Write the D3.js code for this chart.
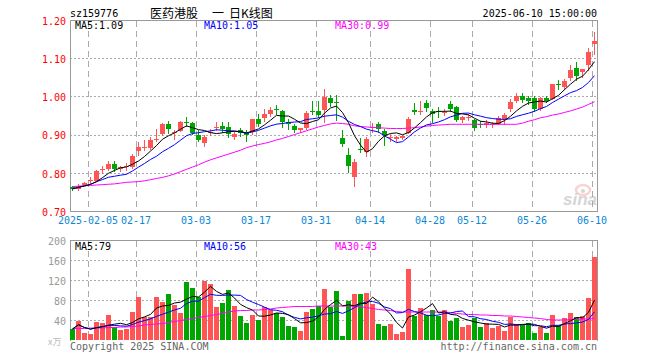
<!DOCTYPE html>
<html lang="zh">
<head>
<meta charset="UTF-8">
<title>医药港股 日K线图</title>
<script src="https://cdn.jsdelivr.net/npm/d3@7"></script>
<style>
  body { margin: 0; background: #fff; }
  text { font-family: 'DejaVu Sans Mono', monospace; font-size: 10px; }
</style>
</head>
<body>
<script>
// trading days shown on the chart
const dates = [
  '2025-01-23','2025-01-24','2025-01-27',
  '2025-02-05','2025-02-06','2025-02-07','2025-02-10','2025-02-11','2025-02-12','2025-02-13','2025-02-14',
  '2025-02-17','2025-02-18','2025-02-19','2025-02-20','2025-02-21','2025-02-24','2025-02-25','2025-02-26','2025-02-27','2025-02-28',
  '2025-03-03','2025-03-04','2025-03-05','2025-03-06','2025-03-07','2025-03-10','2025-03-11','2025-03-12','2025-03-13','2025-03-14',
  '2025-03-17','2025-03-18','2025-03-19','2025-03-20','2025-03-21','2025-03-24','2025-03-25','2025-03-26','2025-03-27','2025-03-28',
  '2025-03-31','2025-04-01','2025-04-02','2025-04-03','2025-04-07','2025-04-08','2025-04-09','2025-04-10','2025-04-11',
  '2025-04-14','2025-04-15','2025-04-16','2025-04-17','2025-04-18','2025-04-21','2025-04-22','2025-04-23','2025-04-24','2025-04-25',
  '2025-04-28','2025-04-29','2025-04-30','2025-05-06','2025-05-07','2025-05-08','2025-05-09',
  '2025-05-12','2025-05-13','2025-05-14','2025-05-15','2025-05-16','2025-05-19','2025-05-20','2025-05-21','2025-05-22','2025-05-23',
  '2025-05-26','2025-05-27','2025-05-28','2025-05-29','2025-05-30','2025-06-03','2025-06-04','2025-06-05','2025-06-06','2025-06-09','2025-06-10'
]

const open = [0.763,0.758,0.769,0.780,0.780,0.808,0.810,0.824,0.810,0.815,0.815,0.856,0.866,0.865,0.886,0.901,0.927,0.904,0.911,0.934,0.930,
  0.900,0.880,0.905,0.919,0.923,0.920,0.894,0.913,0.908,0.907,0.941,0.943,0.954,0.966,0.962,0.932,0.923,0.910,0.916,0.961,0.962,
  0.965,0.997,0.985,0.890,0.846,0.791,0.863,0.855,0.918,0.928,0.910,0.891,0.889,0.891,0.906,0.964,0.961,0.983,0.961,0.961,0.957,
  0.979,0.972,0.939,0.945,0.937,0.929,0.925,0.927,0.929,0.941,0.966,0.988,1.000,0.996,0.996,0.967,0.996,0.995,1.032,1.024,1.046,1.074,1.065,1.083,1.138]
const high = [0.766,0.770,0.775,0.789,0.808,0.817,0.832,0.830,0.818,0.825,0.850,0.880,0.887,0.894,0.914,0.930,0.935,0.913,0.935,0.946,0.934,
  0.913,0.900,0.914,0.934,0.934,0.933,0.908,0.917,0.913,0.942,0.954,0.967,0.971,0.977,0.965,0.941,0.928,0.918,0.962,0.989,0.989,
  1.019,1.003,1.003,0.912,0.865,0.836,0.890,0.893,0.930,0.934,0.914,0.901,0.897,0.899,0.945,0.984,0.989,0.990,0.967,0.973,0.967,
  0.987,0.974,0.950,0.953,0.941,0.936,0.937,0.933,0.950,0.956,0.993,1.008,1.008,1.002,1.002,0.998,1.002,1.033,1.042,1.046,1.081,1.089,1.072,1.127,1.168]
const low = [0.755,0.755,0.767,0.773,0.778,0.800,0.808,0.804,0.804,0.808,0.812,0.847,0.860,0.862,0.882,0.899,0.904,0.888,0.909,0.923,0.901,
  0.882,0.869,0.900,0.913,0.908,0.895,0.888,0.896,0.882,0.901,0.923,0.936,0.949,0.954,0.921,0.915,0.906,0.908,0.914,0.954,0.945,
  0.934,0.976,0.937,0.869,0.801,0.766,0.855,0.845,0.907,0.906,0.873,0.884,0.884,0.889,0.904,0.954,0.954,0.963,0.933,0.946,0.952,
  0.963,0.935,0.934,0.937,0.911,0.920,0.920,0.921,0.927,0.927,0.963,0.985,0.985,0.980,0.963,0.964,0.986,0.993,1.020,1.020,1.042,1.042,1.050,1.068,1.111]
const close = [0.758,0.766,0.773,0.782,0.805,0.810,0.824,0.810,0.816,0.817,0.845,0.867,0.868,0.887,0.889,0.928,0.913,0.906,0.934,0.933,0.904,
  0.888,0.895,0.906,0.920,0.915,0.901,0.901,0.904,0.900,0.941,0.928,0.954,0.965,0.964,0.932,0.928,0.912,0.916,0.956,0.959,0.951,
  0.999,0.983,0.982,0.873,0.818,0.829,0.861,0.888,0.920,0.915,0.899,0.893,0.895,0.897,0.942,0.960,0.963,0.969,0.953,0.960,0.959,
  0.967,0.939,0.946,0.947,0.915,0.928,0.930,0.929,0.944,0.952,0.985,1.000,0.989,0.987,0.967,0.996,0.987,1.033,1.031,1.041,1.068,1.052,1.072,1.117,1.146]

// 30 day average (needs history before the first day)
const ma30 = [0.764,0.765,0.766,0.767,0.768,0.769,0.770,0.771,0.773,0.775,0.776,0.777,0.779,0.782,0.785,0.788,0.792,0.797,0.803,0.809,0.815,
  0.821,0.828,0.834,0.839,0.844,0.849,0.854,0.859,0.866,0.870,0.874,0.877,0.881,0.886,0.890,0.895,0.900,0.905,0.910,0.915,0.920,
  0.924,0.928,0.930,0.929,0.927,0.923,0.921,0.920,0.919,0.918,0.917,0.916,0.916,0.916,0.917,0.918,0.920,0.922,0.924,0.925,0.926,
  0.927,0.927,0.927,0.927,0.927,0.927,0.927,0.927,0.927,0.927,0.927,0.927,0.930,0.935,0.939,0.944,0.947,0.951,0.954,0.958,0.962,0.967,0.972,0.979,0.986]

// volume, 万
const volume = [22,39,14,12,36,34,50,26,21,22,56,86,46,46,86,76,92,70,54,116,104,86,118,112,66,74,100,68,48,34,
  50,40,66,60,54,46,28,26,18,56,62,68,102,66,98,8,78,92,92,95,72,32,28,32,12,16,142,48,64,50,
  60,48,60,38,44,26,30,44,26,34,24,28,18,46,32,30,34,14,26,14,50,30,44,54,46,48,85,166]
const volMa30 = [23,23,23,24,24,24,25,25,26,26,27,28,30,31,32,33,35,37,39,41,43,45,47,49,51,53,56,58,59,59,
  60,60,61,62,64,65,66,67,67,67,67,68,68,68,68,68,68,67,66,65,63,61,60,59,57,56,56,56,56,56,
  56,56,56,55,53,52,51,51,50,50,49,49,48,48,47,46,45,44,43,41,40,40,40,41,41,42,42,43]

const tickDates = ['2025-02-05','2025-02-17','2025-03-03','2025-03-17','2025-03-31','2025-04-14','2025-04-28','2025-05-12','2025-05-26','2025-06-10']
const tickLabels = ['2025-02-05','02-17','03-03','03-17','03-31','04-14','04-28','05-12','05-26','06-10']
const priceTicks = [0.70, 0.80, 0.90, 1.00, 1.10, 1.20]
const volTicks = [40, 80, 120, 160, 200]

const width = 660
const height = 360
const left = 70
const right = 598

const red = '#ff5555'
const green = '#00a600'
const grid = '#aaaaaa'
const frame = '#999999'

function movingAvg(arr, n) {
  return arr.map((_, i) => d3.mean(arr.slice(Math.max(0, i - n + 1), i + 1)))
}
const ma5 = movingAvg(close, 5)
const ma10 = movingAvg(close, 10)
const volMa5 = movingAvg(volume, 5)
const volMa10 = movingAvg(volume, 10)

const x = d3.scaleBand()
  .domain(dates)
  .range([left, right])
  .paddingInner(1 / 6)
  .paddingOuter(1 / 12)
  .align(0)

const yP = d3.scaleLinear().domain([0.70, 1.20]).range([211, 20])
const yV = d3.scaleLinear().domain([0, 200]).range([340, 240])

const svg = d3.select('body')
  .append('svg')
  .attr('width', width)
  .attr('height', height)

// vertical dashed grid in both panels
const vgrid = svg.append('g')
  .attr('stroke', grid)
  .attr('stroke-dasharray', '6,4')
  .attr('shape-rendering', 'crispEdges')
tickDates.forEach(d => {
  vgrid.append('line').attr('x1', x(d) + 0.5).attr('x2', x(d) + 0.5).attr('y1', 21).attr('y2', 211)
  vgrid.append('line').attr('x1', x(d) + 0.5).attr('x2', x(d) + 0.5).attr('y1', 241).attr('y2', 340)
})

// horizontal dotted grid
const hgrid = svg.append('g')
  .attr('stroke', grid)
  .attr('stroke-dasharray', '2,2')
  .attr('shape-rendering', 'crispEdges')
priceTicks.slice(1, -1).forEach(v => {
  const y = Math.round(yP(v)) + 0.5
  hgrid.append('line').attr('x1', left).attr('x2', right).attr('y1', y).attr('y2', y)
})
volTicks.slice(0, -1).forEach(v => {
  const y = Math.round(yV(v)) + 0.5
  hgrid.append('line').attr('x1', left).attr('x2', right).attr('y1', y).attr('y2', y)
})

// sina watermark, faint
const wm = svg.append('g').attr('opacity', 0.35)
wm.append('ellipse').attr('cx', 583).attr('cy', 190).attr('rx', 7).attr('ry', 5)
  .attr('fill', 'none').attr('stroke', '#f08080').attr('stroke-width', 2.5)
wm.append('circle').attr('cx', 583).attr('cy', 191).attr('r', 2).attr('fill', '#888')
wm.append('text').attr('x', 563).attr('y', 205)
  .style('font-family', 'Liberation Sans, sans-serif').style('font-size', '17px')
  .style('font-weight', 'bold').style('font-style', 'italic')
  .attr('fill', '#888').text('sina')

// frames
const frames = svg.append('g')
  .attr('stroke', frame)
  .attr('fill', 'none')
  .attr('shape-rendering', 'crispEdges')
frames.append('path').attr('d', `M${left + 0.5},20.5H${right - 0.5}V211.5H${left + 0.5}Z`)
frames.append('path').attr('d', `M${left + 0.5},340.5V240.5H${right - 0.5}V340.5`)

// candles
const candles = svg.append('g').attr('shape-rendering', 'crispEdges')
  .selectAll('g')
  .data(dates)
  .enter()
  .append('g')
  .attr('fill', (d, i) => close[i] >= open[i] ? red : green)
  .attr('stroke', (d, i) => close[i] >= open[i] ? red : green)

candles.append('line')
  .attr('x1', d => x(d) + 2.5)
  .attr('x2', d => x(d) + 2.5)
  .attr('y1', (d, i) => Math.round(yP(high[i])))
  .attr('y2', (d, i) => Math.round(yP(low[i])) + 1)

candles.append('rect')
  .attr('stroke', 'none')
  .attr('x', d => x(d))
  .attr('width', x.bandwidth())
  .attr('y', (d, i) => Math.round(yP(Math.max(open[i], close[i]))))
  .attr('height', (d, i) => Math.max(1, Math.round(Math.abs(yP(open[i]) - yP(close[i])))))

// volume bars
svg.append('g').attr('shape-rendering', 'crispEdges')
  .selectAll('rect')
  .data(volume)
  .enter()
  .append('rect')
  .attr('x', (d, i) => x(dates[i]))
  .attr('width', x.bandwidth())
  .attr('y', d => Math.round(yV(d)))
  .attr('height', d => 340 - Math.round(yV(d)))
  .attr('fill', (d, i) => close[i] >= open[i] ? red : green)

// moving average lines
function maLine(scale) {
  return d3.line().x((d, i) => x(dates[i]) + 2.5).y(d => scale(d))
}
const maSeries = [
  [ma30, yP, '#ff00ff'], [ma10, yP, '#0000ff'], [ma5, yP, '#000000'],
  [volMa30, yV, '#ff00ff'], [volMa10, yV, '#0000ff'], [volMa5, yV, '#000000']
]
maSeries.forEach(([data, scale, colour]) => {
  svg.append('path')
    .datum(data)
    .attr('d', maLine(scale))
    .attr('fill', 'none')
    .attr('stroke', colour)
    .attr('stroke-width', 1)
})

// price axis
const priceAxis = svg.append('g')
  .attr('transform', 'translate(67,1)')
  .call(d3.axisLeft(yP).tickValues(priceTicks).tickSize(0).tickPadding(1).tickFormat(d3.format('.2f')))
priceAxis.select('.domain').remove()
priceAxis.selectAll('text').attr('fill', '#ff0000').style('font-size', '10px').style('font-family', 'DejaVu Sans Mono, monospace')

// volume axis
const volAxis = svg.append('g')
  .attr('transform', 'translate(67,1)')
  .call(d3.axisLeft(yV).tickValues(volTicks).tickSize(0).tickPadding(1))
volAxis.select('.domain').remove()
volAxis.selectAll('text').attr('fill', '#999999').style('font-size', '10px').style('font-family', 'DejaVu Sans Mono, monospace')

// date axis, labels centred on the grid lines
const dateAxis = svg.append('g')
  .attr('transform', `translate(${-x.bandwidth() / 2},214)`)
  .call(d3.axisBottom(x).tickValues(tickDates).tickSize(0).tickPadding(3)
    .tickFormat((d, i) => tickLabels[i]))
dateAxis.select('.domain').remove()
dateAxis.selectAll('text').attr('fill', '#0d87d6').style('font-size', '10px').style('font-family', 'DejaVu Sans Mono, monospace')

// header
svg.append('text').attr('x', 70).attr('y', 17).attr('fill', '#000').text('sz159776')
const titleParts = [['医药港股', 150], ['一', 212], ['日K线图', 229]]
titleParts.forEach(([t, tx]) => {
  svg.append('text').attr('x', tx).attr('y', 18)
    .style('font-family', 'Noto Sans CJK SC, sans-serif').style('font-size', '12px')
    .attr('fill', '#000').text(t)
})
svg.append('text').attr('x', 597).attr('y', 17).attr('text-anchor', 'end').attr('fill', '#000').text('2025-06-10 15:00:00')

// MA legends
const last = dates.length - 1
const fmt = d3.format('.2f')
svg.append('text').attr('x', 75).attr('y', 29).attr('fill', '#000').text(`MA5:${fmt(ma5[last])}`)
svg.append('text').attr('x', 204).attr('y', 29).attr('fill', '#0000ff').text(`MA10:${fmt(ma10[last])}`)
svg.append('text').attr('x', 335).attr('y', 29).attr('fill', '#ff00ff').text(`MA30:${fmt(ma30[last])}`)
svg.append('text').attr('x', 75).attr('y', 250).attr('fill', '#000').text(`MA5:${Math.floor(volMa5[last])}`)
svg.append('text').attr('x', 204).attr('y', 250).attr('fill', '#0000ff').text(`MA10:${Math.floor(volMa10[last])}`)
svg.append('text').attr('x', 335).attr('y', 250).attr('fill', '#ff00ff').text(`MA30:${Math.floor(volMa30[last])}`)

// footer
svg.append('text').attr('x', 48).attr('y', 345)
  .style('font-family', 'Noto Sans CJK SC, sans-serif').style('font-size', '9px')
  .attr('fill', '#bbbbbb').text('x万')
svg.append('text').attr('x', 70).attr('y', 350).attr('fill', '#666666').text('Copyright 2025 SINA.COM')
svg.append('text').attr('x', 597).attr('y', 350).attr('text-anchor', 'end').attr('fill', '#666666').text('http://finance.sina.com.cn')
</script>
</body>
</html>
